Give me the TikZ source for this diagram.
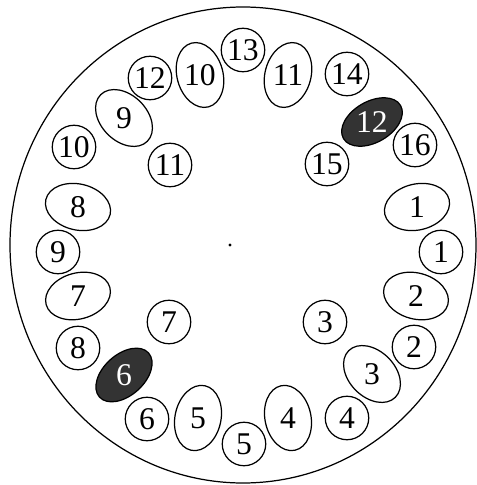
\documentclass[tikz,border=0pt]{standalone}
\usepackage{fontspec}
\setmainfont{Liberation Serif}
\usetikzlibrary{shapes.geometric}

\begin{document}
\begin{tikzpicture}[
  x=0.02cm, y=0.02cm,
  tooth/.style={circle, draw, line width=0.7pt, minimum size=0.87cm, inner sep=0pt, font=\fontsize{18}{18}\selectfont},
  oval/.style={ellipse, draw, line width=0.7pt, minimum width=1.32cm, minimum height=0.92cm, inner sep=0pt},
  dark_oval/.style={oval, fill=black!80, minimum height=0.82cm},
  num/.style={inner sep=0pt, font=\fontsize{18}{18}\selectfont},
  dark_num/.style={num, text=white}
]
  \useasboundingbox (0,0) rectangle (477,485);

  % outline and centre mark
  \draw[line width=0.7pt] (243,240) ellipse (233 and 238);
  \fill (230,240) circle (1.6);

  % top row
  \node (c13) [tooth] at (243,435) {13};
  \node (c12) [tooth] at (150,407) {12};
  \node (c14) [tooth] at (347,411) {14};
  \node (e10) [oval, rotate=105] at (200,410) {};
  \node (t10) [num] at (e10.center) {10};
  \node (e11) [oval, rotate=75] at (288,410) {};
  \node (t11) [num] at (e11.center) {11};

  % upper left
  \node (e9) [oval, rotate=-45] at (124,367) {};
  \node (t9) [num] at (e9.center) {9};
  \node (c10) [tooth] at (74,338) {10};
  \node (c11) [tooth] at (170,320) {11};
  \node (e8) [oval, rotate=-13] at (78,278) {};
  \node (t8) [num] at (e8.center) {8};

  % upper right
  \node (e12) [dark_oval, rotate=30] at (372,363) {};
  \node (t12) [dark_num] at (e12.center) {12};
  \node (c16) [tooth] at (415,340) {16};
  \node (c15) [tooth] at (327,321) {15};
  \node (e1) [oval, rotate=13] at (417,278) {};
  \node (t1) [num] at (e1.center) {1};

  % middle
  \node (c9) [tooth] at (58,233) {9};
  \node (c1) [tooth] at (441,233) {1};
  \node (e7) [oval, rotate=15] at (78,189) {};
  \node (t7) [num] at (e7.center) {7};
  \node (e2) [oval, rotate=-15] at (416,189) {};
  \node (t2) [num] at (e2.center) {2};
  \node (c7) [tooth] at (169,163) {7};
  \node (c3) [tooth] at (325,163) {3};
  \node (c8) [tooth] at (78,137) {8};
  \node (c2) [tooth] at (414,138) {2};

  % lower row
  \node (e6) [dark_oval, rotate=42] at (124,110) {};
  \node (t6) [dark_num] at (e6.center) {6};
  \node (e3) [oval, rotate=-45] at (372,111) {};
  \node (t3) [num] at (e3.center) {3};
  \node (c6) [tooth] at (147,66) {6};
  \node (c4) [tooth] at (347,67) {4};
  \node (e5) [oval, rotate=78] at (198,67) {};
  \node (t5) [num] at (e5.center) {5};
  \node (e4) [oval, rotate=102] at (288,67) {};
  \node (t4) [num] at (e4.center) {4};
  \node (c5) [tooth] at (244,41) {5};

\end{tikzpicture}
\end{document}
